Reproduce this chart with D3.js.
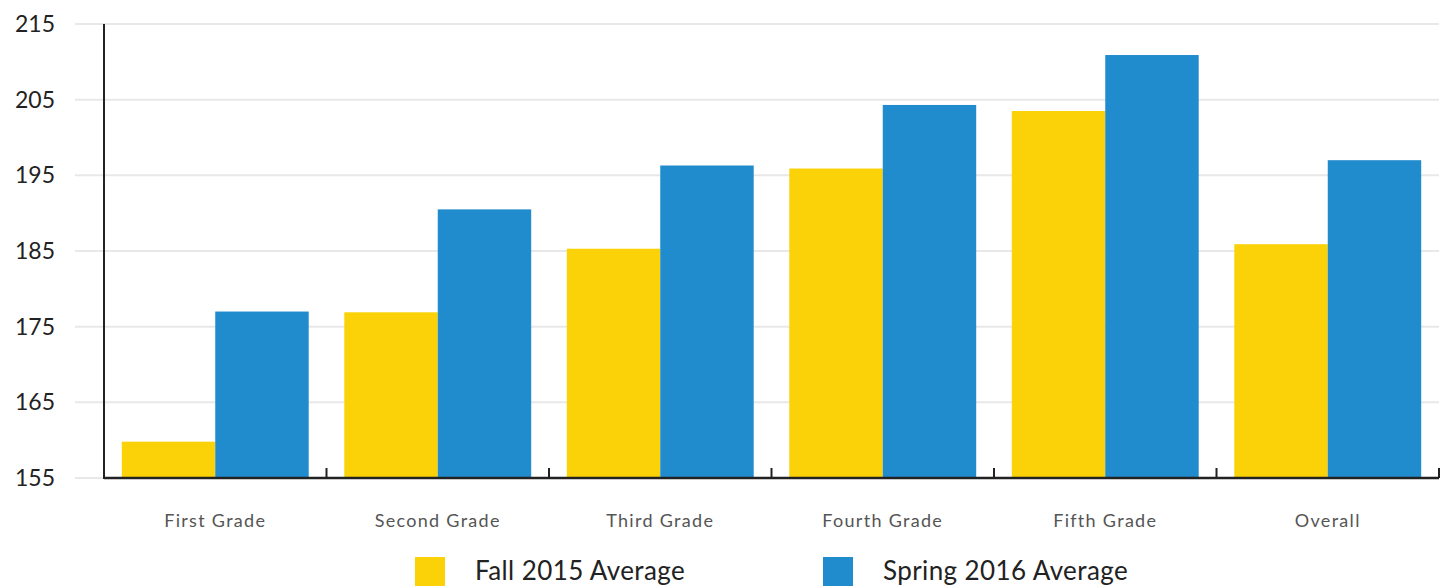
<!DOCTYPE html>
<html>
<head>
<meta charset="utf-8">
<script src="https://cdn.jsdelivr.net/npm/d3@7"></script>
<style>
  body { margin: 0; background: #fff; }
  svg text { font-family: Lato, "Open Sans", sans-serif; }
</style>
</head>
<body>
<div id="chart"></div>
<script>
//
// Data
//
var grades = ["First Grade", "Second Grade", "Third Grade", "Fourth Grade", "Fifth Grade", "Overall"];
var seriesNames = ["Fall 2015 Average", "Spring 2016 Average"];
var fall2015 = [159.8, 176.9, 185.3, 195.9, 203.5, 185.9];
var spring2016 = [177.0, 190.5, 196.3, 204.3, 210.9, 197.0];
var yTicks = [155, 165, 175, 185, 195, 205, 215];
var colors = ["#fad207", "#208bcd"];

var width = 1447, height = 586;
var margin = {top: 24, right: 8, bottom: 108, left: 104};

var svg = d3.select("#chart").append("svg")
    .attr("width", width)
    .attr("height", height);

var x0 = d3.scaleBand()
    .domain(grades)
    .range([margin.left, width - margin.right])
    .paddingInner(0.16)
    .paddingOuter(0.08);

var x1 = d3.scaleBand()
    .domain(seriesNames)
    .range([0, x0.bandwidth()]);

var y = d3.scaleLinear()
    .domain([155, 215])
    .range([height - margin.bottom, margin.top]);

// gridlines
svg.append("g")
    .selectAll("line")
    .data(yTicks)
    .enter().append("line")
    .attr("x1", 75)
    .attr("x2", width - margin.right)
    .attr("y1", function(d) { return y(d); })
    .attr("y2", function(d) { return y(d); })
    .attr("stroke", "#e8e8e8")
    .attr("stroke-width", 2);

// y labels
svg.append("g")
    .selectAll("text")
    .data(yTicks)
    .enter().append("text")
    .attr("x", 55)
    .attr("y", function(d) { return y(d); })
    .attr("dy", "0.35em")
    .attr("text-anchor", "end")
    .attr("font-size", 23)
    .attr("fill", "#222")
    .text(function(d) { return d; });

// bars
var rows = grades.map(function(g, i) {
    return {grade: g, values: [fall2015[i], spring2016[i]]};
});

var group = svg.append("g")
    .selectAll("g")
    .data(rows)
    .enter().append("g")
    .attr("transform", function(d) { return "translate(" + x0(d.grade) + ",0)"; });

group.selectAll("rect")
    .data(function(d) { return d.values.map(function(v, j) { return {name: seriesNames[j], value: v, idx: j}; }); })
    .enter().append("rect")
    .attr("x", function(d) { return x1(d.name); })
    .attr("width", x1.bandwidth())
    .attr("y", function(d) { return y(d.value); })
    .attr("height", function(d) { return y(155) - y(d.value); })
    .attr("fill", function(d) { return colors[d.idx]; });

// axes lines
var step = x0.step();
var base = y(155);
svg.append("line")
    .attr("x1", margin.left).attr("x2", margin.left)
    .attr("y1", margin.top).attr("y2", base + 1)
    .attr("stroke", "#222").attr("stroke-width", 2);

svg.append("line")
    .attr("x1", margin.left).attr("x2", width - margin.right)
    .attr("y1", base).attr("y2", base)
    .attr("stroke", "#222").attr("stroke-width", 2.5);

// tick marks at band edges
svg.append("g")
    .selectAll("line")
    .data(grades)
    .enter().append("line")
    .attr("x1", function(d) { return x0(d) - step * 0.08 + step; })
    .attr("x2", function(d) { return x0(d) - step * 0.08 + step; })
    .attr("y1", base - 10)
    .attr("y2", base)
    .attr("stroke", "#222").attr("stroke-width", 2);

// x labels
svg.append("g")
    .selectAll("text")
    .data(grades)
    .enter().append("text")
    .attr("x", function(d) { return x0(d) + x0.bandwidth() / 2; })
    .attr("y", 527)
    .attr("text-anchor", "middle")
    .attr("font-size", 18)
    .attr("letter-spacing", 1.3)
    .attr("fill", "#555")
    .text(function(d) { return d; });

// legend
var legendX = [415, 823];
var legend = svg.append("g")
    .selectAll("g")
    .data(seriesNames)
    .enter().append("g")
    .attr("transform", function(d, i) { return "translate(" + legendX[i] + ",557)"; });

legend.append("rect")
    .attr("width", 30)
    .attr("height", 40)
    .attr("fill", function(d, i) { return colors[i]; });

legend.append("text")
    .attr("x", 60)
    .attr("y", 23)
    .attr("font-size", 26)
    .attr("letter-spacing", 0.4)
    .attr("fill", "#222")
    .text(function(d) { return d; });
</script>
</body>
</html>
